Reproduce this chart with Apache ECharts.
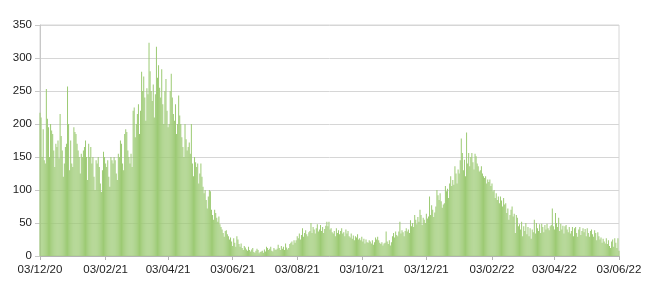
<!DOCTYPE html>
<html>
<head>
<meta charset="utf-8">
<script src="https://cdn.jsdelivr.net/npm/echarts@6/dist/echarts.min.js"></script>
<style>
html,body{margin:0;padding:0;background:#fff;}
#chart{width:650px;height:290px;}
</style>
</head>
<body>
<div id="chart"></div>
<script>
// Daily values, 03/12/2020 .. 03/06/2022, one array per month
var dec20 = [217,210,150,192,145,140,253,208,195,150,200,190,185,160,135,170,165,175,148,215,182,160,120,140,165,170,257,200,130];
var jan21 = [175,140,135,195,188,185,170,160,150,125,155,150,160,165,175,150,115,170,150,165,140,150,120,100,145,140,150,135,110,97,130];
var feb21 = [158,150,140,135,145,120,105,150,145,140,150,145,125,115,155,150,175,170,140,130,185,192,188,160,150,140,155,135];
var mar21 = [220,225,180,200,215,230,185,220,279,250,272,240,205,254,245,323,280,250,235,260,210,245,317,270,289,255,240,283,230,200,250];
var apr21 = [268,220,195,200,250,276,240,215,205,230,185,200,243,213,200,180,165,150,200,177,160,165,172,155,200,140,121,150,142,135];
var may21 = [140,110,125,140,120,105,95,100,85,72,90,100,98,70,62,55,70,65,58,52,60,48,44,40,35,29,38,39,33,30,25];
var jun21 = [28,22,15,27,20,14,30,25,18,14,19,12,9,15,13,10,8,14,9,7,10,12,6,5,8,11,9,4,6,7];
var jul21 = [8,5,10,7,14,12,9,11,14,8,7,12,10,9,11,17,12,9,15,11,14,9,19,13,10,12,18,20,22,17,24];
var aug21 = [20,24,30,27,34,25,32,42,29,35,39,33,30,36,38,50,35,44,40,34,42,48,37,40,47,38,44,35,41,46,52];
var sep21 = [45,52,40,42,36,34,38,30,42,35,39,33,38,42,34,36,30,40,34,38,30,28,34,26,31,24,30,28,33,25];
var oct21 = [27,24,29,22,26,19,25,21,20,24,22,19,24,17,21,28,25,29,24,20,18,21,16,19,20,37,22,18,24,16,21];
var nov21 = [30,35,28,37,32,30,37,52,34,39,36,30,38,42,37,40,35,54,45,50,44,62,55,48,59,52,70,62,47,58];
var dec21 = [55,50,64,57,60,90,62,77,70,59,66,75,100,92,85,95,83,73,78,80,106,98,102,88,110,121,106,115,108,136,125];
var jan22 = [110,131,125,145,178,156,130,146,121,187,140,156,136,150,156,142,131,155,151,140,136,128,130,136,125,121,118,121,110,116,112];
var feb22 = [116,106,110,98,100,88,95,85,90,80,90,84,75,88,78,80,65,72,55,62,70,75,60,64,35,62,58,45];
var mar22 = [48,40,52,30,45,38,50,33,44,30,42,26,40,36,55,34,50,42,38,48,35,49,44,36,47,40,49,42,39,45,47];
var apr22 = [72,45,40,65,50,44,58,38,49,40,46,34,45,47,40,36,44,34,38,44,30,42,44,35,29,40,44,32,38,42];
var may22 = [36,41,30,42,35,29,38,40,33,29,39,35,24,36,30,25,28,20,26,22,19,27,18,24,15,12,22,25,14,27,20];
var jun22 = [12,27,8];

var tickLabels = ['03/12/20','03/02/21','03/04/21','03/06/21','03/08/21','03/10/21','03/12/21','03/02/22','03/04/22','03/06/22'];
var yTicks = [0,50,100,150,200,250,300,350];

var values = [].concat(dec20,jan21,feb21,mar21,apr21,may21,jun21,jul21,aug21,sep21,oct21,nov21,dec21,jan22,feb22,mar22,apr22,may22,jun22);

function pad(n){return (n<10?'0':'')+n;}
var categories = [];
var d = new Date(Date.UTC(2020,11,3));
for (var i=0;i<values.length;i++){
  categories.push(pad(d.getUTCDate())+'/'+pad(d.getUTCMonth()+1)+'/'+pad(d.getUTCFullYear()%100));
  d.setUTCDate(d.getUTCDate()+1);
}
function isTick(idx, val){ return tickLabels.indexOf(categories[idx]) >= 0; }

var chart = echarts.init(document.getElementById('chart'), null, {renderer:'canvas'});
chart.setOption({
  animation:false,
  backgroundColor:'#ffffff',
  grid:{left:40,right:31,top:25,bottom:34,show:true,borderColor:'#d6d6d6',borderWidth:1},
  xAxis:{
    type:'category',
    data:categories,
    boundaryGap:false,
    axisLine:{show:true,lineStyle:{color:'#b3b3b3',width:1}},
    axisTick:{show:true,interval:isTick,length:4,lineStyle:{color:'#b3b3b3'}},
    axisLabel:{interval:isTick,margin:8,color:'#222',fontFamily:'Liberation Sans',fontSize:11.5,hideOverlap:false},
    splitLine:{show:false}
  },
  yAxis:{
    type:'value',
    min:0,max:350,interval:50,
    axisLine:{show:true,lineStyle:{color:'#c8c8c8'}},
    axisTick:{show:true,length:5,lineStyle:{color:'#c8c8c8'}},
    axisLabel:{margin:8,color:'#222',fontFamily:'Liberation Sans',fontSize:11.5},
    splitLine:{show:true,lineStyle:{color:'#d6d6d6',width:1}}
  },
  series:[{
    type:'bar',
    data:values,
    barCategoryGap:'15%',
    itemStyle:{color:'#9cca73'},
    clip:true
  }]
});
</script>
</body>
</html>
